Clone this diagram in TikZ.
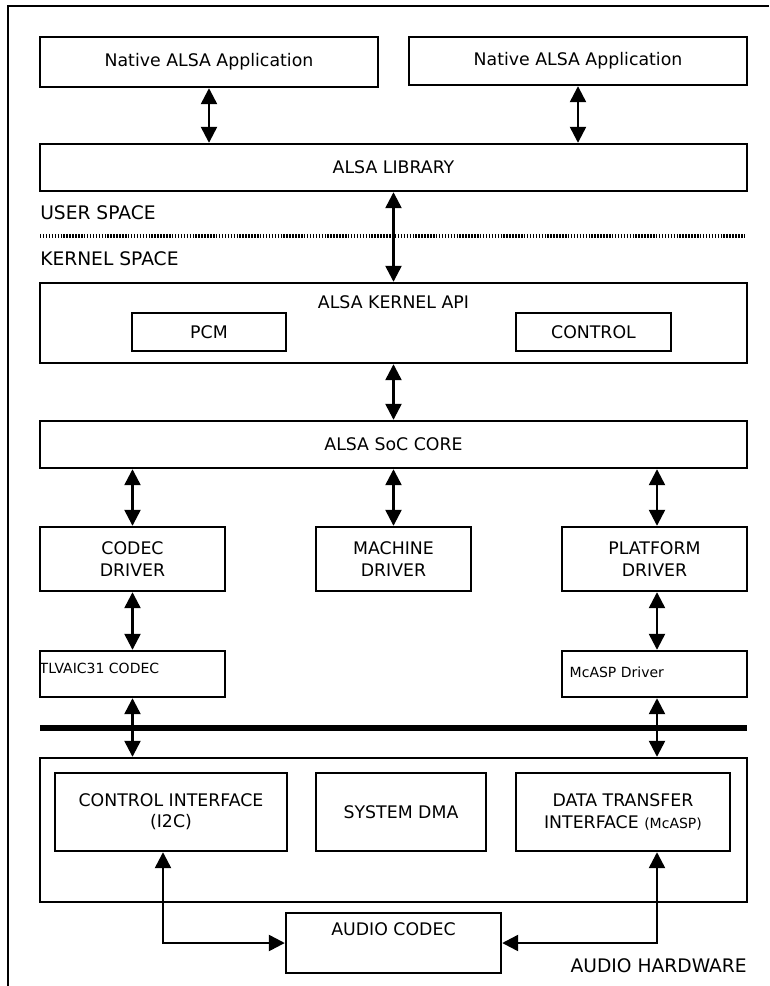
\documentclass[tikz,border=0pt]{standalone}
\usepackage{fontspec}
\setmainfont{DejaVu Sans}
\usepackage{tikz}
\usetikzlibrary{arrows.meta,positioning}
\newcommand{\smalltxt}{\fontsize{10.5}{12}\selectfont}
\newcommand{\bigtxt}{\fontsize{14}{16}\selectfont}

\begin{document}
\begin{tikzpicture}[x=0.75pt, y=-0.75pt, font=\fontsize{13}{16}\selectfont,
  blk/.style={draw, line width=1.8pt, inner sep=2pt, align=center},
  link/.style={line width=1.8pt, {Triangle[length=12pt,width=12pt]}-{Triangle[length=12pt,width=12pt]}},
  bus/.style={line width=4pt},
  sepline/.style={line width=2.4pt, dash pattern=on 1.1pt off 1.1pt},
  frameline/.style={line width=2.2pt}]
\useasboundingbox (0,0) rectangle (769,986);
\draw[frameline] (769,6) -- (8,6) -- (8,986);
% ---------- user space ----------
\node[blk, minimum width=253.5pt, minimum height=37.5pt] (app1) at (209,62) {Native ALSA Application};
\node[blk, minimum width=253.5pt, minimum height=36pt] (app2) at (578,61) {Native ALSA Application};
\node[blk, minimum width=530.25pt, minimum height=35.25pt] (lib) at (393.5,167.5) {ALSA LIBRARY};
\node[anchor=west, inner sep=0, font=\bigtxt] (usersp) at (40,213) {USER SPACE};
\draw[sepline] (40,236) -- (745,236);
\node[anchor=west, inner sep=0, font=\bigtxt] (kernsp) at (40,259) {KERNEL SPACE};
% ---------- kernel space ----------
\node[blk, minimum width=530.25pt, minimum height=60pt,
  label={[anchor=center, yshift=-15pt]north:ALSA KERNEL API}] (kapi) at (393.5,323) {};
\node[blk, minimum width=115.5pt, minimum height=28.5pt] (pcm) at (209,332) {PCM};
\node[blk, minimum width=116.25pt, minimum height=28.5pt] (ctrl) at (593.5,332) {CONTROL};
\node[blk, minimum width=530.25pt, minimum height=35.25pt] (soc) at (393.5,444.5) {ALSA SoC CORE};
\node[blk, minimum width=138.75pt, minimum height=48pt] (codecdrv) at (132.5,559) {CODEC\\DRIVER};
\node[blk, minimum width=116.25pt, minimum height=48pt] (machdrv) at (393.5,559) {MACHINE\\DRIVER};
\node[blk, minimum width=138.75pt, minimum height=48pt] (platdrv) at (654.5,559) {PLATFORM\\DRIVER};
\node[blk, minimum width=138.75pt, minimum height=34.5pt,
  label={[anchor=west, inner sep=0.5pt, yshift=4.5pt, font=\smalltxt]west:TLVAIC31 CODEC}] (tlv) at (132.5,674) {};
\node[blk, minimum width=138.75pt, minimum height=34.5pt,
  label={[anchor=west, inner sep=0.5pt, xshift=6pt, yshift=1.5pt, font=\smalltxt]west:McASP Driver}] (mcasp) at (654.5,674) {};
\draw[bus] (40,728) -- (747,728);
% ---------- audio hardware ----------
\node[blk, minimum width=530.25pt, minimum height=108pt] (hw) at (393.5,830) {};
\node[blk, minimum width=174pt, minimum height=58.5pt] (ci) at (171,812) {CONTROL INTERFACE\\(I2C)};
\node[blk, minimum width=127.5pt, minimum height=58.5pt] (dma) at (401,812) {SYSTEM DMA};
\node[blk, minimum width=160.5pt, minimum height=58.5pt] (dti) at (623,812) {DATA TRANSFER\\INTERFACE {\smalltxt(McASP)}};
\node[blk, minimum width=161.25pt, minimum height=45pt,
  label={[anchor=center, yshift=-12.75pt]north:AUDIO CODEC}] (acodec) at (393.5,943) {};
\node[anchor=east, inner sep=0, font=\bigtxt] (hwlbl) at (747,966) {AUDIO HARDWARE};
\coordinate (lturn) at (163,943);
\coordinate (rturn) at (657,943);
% ---------- connectors ----------
\draw[link] (app1.south) -- (app1.south |- lib.north);
\draw[link] (app2.south) -- (app2.south |- lib.north);
\draw[link] (lib.south) -- (kapi.north);
\draw[link] (kapi.south) -- (soc.north);
\draw[link] (codecdrv.north |- soc.south) -- (codecdrv.north);
\draw[link] (machdrv.north |- soc.south) -- (machdrv.north);
\draw[link] (rturn |- soc.south) -- (rturn |- platdrv.north);
\draw[link] (codecdrv.south) -- (tlv.north);
\draw[link] (rturn |- platdrv.south) -- (rturn |- mcasp.north);
\draw[link] (tlv.south) -- (tlv.south |- hw.north);
\draw[link] (rturn |- mcasp.south) -- (rturn |- hw.north);
\draw[link] (lturn |- ci.south) -- (lturn) -- (acodec.west);
\draw[link] (rturn |- dti.south) -- (rturn) -- (acodec.east);
\end{tikzpicture}
\end{document}
